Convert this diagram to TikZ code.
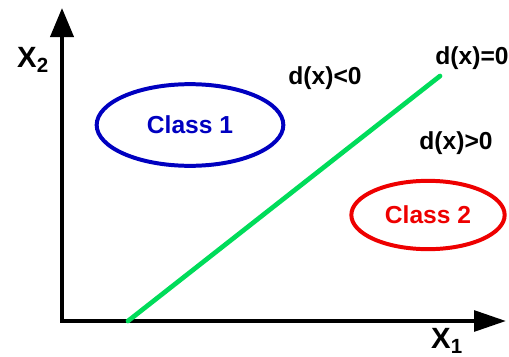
\documentclass[tikz,border=0pt]{standalone}
\usepackage{fontspec}
\setmainfont{Liberation Sans}
\usepackage{xcolor}
\usetikzlibrary{positioning, arrows.meta, shapes.geometric}

\definecolor{classblue}{RGB}{0,0,192}
\definecolor{classred}{RGB}{238,0,0}
\definecolor{boundgreen}{RGB}{0,220,90}

\begin{document}
\begin{tikzpicture}[
  x=0.3mm, y=-0.3mm,
  font=\fontsize{21}{24}\selectfont\bfseries,
  axisline/.style={line width=3.4pt},
  classbox/.style={
    draw, ellipse, line width=3.4pt, inner sep=0pt
  },
  lbl/.style={inner sep=0pt},
  axlbl/.style={inner sep=0pt, font=\fontsize{25}{28}\selectfont\bfseries}
]
\useasboundingbox (0,0) rectangle (509,356);

% axes
\coordinate (orig) at (62,321);
\coordinate (ytip) at (62,8);
\coordinate (xtip) at (506,321);
\draw[axisline, {Triangle[length=8.7mm, width=6.9mm]}-{Triangle[length=9.6mm, width=6.2mm]}]
  (ytip) -- (orig) -- (xtip);

\node[axlbl] (x2) at (33,60) {X\textsubscript{2}};
\node[axlbl] (x1) at (447,341) {X\textsubscript{1}};

% decision boundary
\coordinate (db0) at (128,321);
\coordinate (db1) at (440,76);
\draw[boundgreen, line width=4pt, line cap=round] (db0) -- (db1);

% classes
\node[classbox, classblue, minimum width=5.6cm, minimum height=2.45cm] (c1) at (190,125) {Class 1};
\node[classbox, classred, minimum width=4.6cm, minimum height=2.05cm] (c2) at (428,215) {Class 2};

% regions
\node[lbl] (neg) at (325,78) {d(x)<0};
\node[lbl] (zero) at (472,58) {d(x)=0};
\node[lbl] (pos) at (456,143) {d(x)>0};

\end{tikzpicture}
\end{document}
